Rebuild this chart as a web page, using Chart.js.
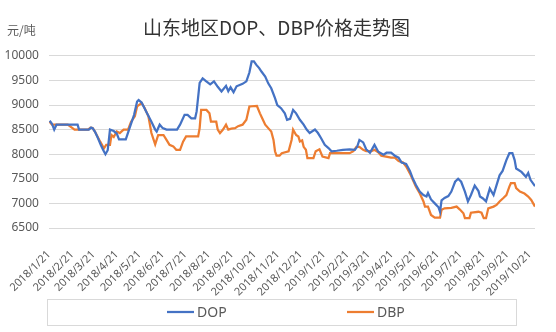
<!DOCTYPE html>
<html>
<head>
<meta charset="utf-8">
<script src="https://cdn.jsdelivr.net/npm/chart.js@4.4.0/dist/chart.umd.min.js"></script>
<style>
  html, body { margin: 0; padding: 0; background: #fff; }
</style>
</head>
<body>
<canvas id="chart" width="556" height="332"></canvas>
<script>
const titleText = "山东地区DOP、DBP价格走势图";
const unitText = "元/吨";

// month ticks on the date axis
const tickLabels = [
  "2018/1/21", "2018/2/21", "2018/3/21", "2018/4/21", "2018/5/21", "2018/6/21",
  "2018/7/21", "2018/8/21", "2018/9/21", "2018/10/21", "2018/11/21", "2018/12/21",
  "2019/1/21", "2019/2/21", "2019/3/21", "2019/4/21", "2019/5/21", "2019/6/21",
  "2019/7/21", "2019/8/21", "2019/9/21", "2019/10/21"
];

// DOP price (yuan/ton), dates where the price moved
const dopDates = [
  "2018-01-22", "2018-01-25", "2018-01-28", "2018-01-31", "2018-02-28", "2018-03-02",
  "2018-03-15", "2018-03-18", "2018-03-20", "2018-03-23", "2018-03-27", "2018-03-31",
  "2018-04-03", "2018-04-06", "2018-04-09", "2018-04-12", "2018-04-17", "2018-04-21", "2018-04-24",
  "2018-05-03", "2018-05-08", "2018-05-14", "2018-05-18", "2018-05-20", "2018-05-24", "2018-05-30",
  "2018-06-06", "2018-06-11", "2018-06-13", "2018-06-17", "2018-06-21", "2018-06-26",
  "2018-07-10", "2018-07-14", "2018-07-20", "2018-07-24", "2018-07-29",
  "2018-08-03", "2018-08-05", "2018-08-09", "2018-08-13", "2018-08-17", "2018-08-23", "2018-08-28",
  "2018-09-02", "2018-09-07", "2018-09-13", "2018-09-16", "2018-09-19", "2018-09-23", "2018-09-27",
  "2018-10-05", "2018-10-10", "2018-10-14", "2018-10-17", "2018-10-20", "2018-10-23", "2018-10-27", "2018-10-30",
  "2018-11-04", "2018-11-08", "2018-11-12", "2018-11-17", "2018-11-20", "2018-11-25", "2018-11-30",
  "2018-12-03", "2018-12-07", "2018-12-11", "2018-12-15", "2018-12-20", "2018-12-25", "2018-12-29",
  "2019-01-02", "2019-01-09", "2019-01-13", "2019-01-17", "2019-01-22", "2019-01-27", "2019-01-31",
  "2019-02-07", "2019-02-15", "2019-02-24",
  "2019-03-03", "2019-03-06", "2019-03-09", "2019-03-14", "2019-03-18", "2019-03-23", "2019-03-29",
  "2019-04-03", "2019-04-10", "2019-04-14", "2019-04-20", "2019-04-25", "2019-04-30",
  "2019-05-04", "2019-05-10", "2019-05-15", "2019-05-19", "2019-05-23", "2019-05-28",
  "2019-06-02", "2019-06-06", "2019-06-08", "2019-06-12", "2019-06-17", "2019-06-22", "2019-06-24", "2019-06-26", "2019-06-30",
  "2019-07-05", "2019-07-09", "2019-07-14", "2019-07-18", "2019-07-22", "2019-07-27", "2019-07-31",
  "2019-08-04", "2019-08-09", "2019-08-14", "2019-08-16", "2019-08-20", "2019-08-24", "2019-08-29",
  "2019-09-03", "2019-09-07", "2019-09-11", "2019-09-15", "2019-09-20", "2019-09-24", "2019-09-28",
  "2019-10-01", "2019-10-03", "2019-10-10", "2019-10-16", "2019-10-19", "2019-10-22", "2019-10-28"
];
const dopPrices = [
  8680, 8620, 8500, 8600, 8600, 8500,
  8500, 8540, 8530, 8460, 8330, 8180,
  8085, 8000, 8080, 8500, 8470, 8420, 8300,
  8300, 8530, 8800, 9070, 9100, 9050, 8870,
  8660, 8500, 8460, 8600, 8530, 8500,
  8500, 8600, 8800, 8800, 8730,
  8730, 8870, 9450, 9540, 9490, 9420, 9480,
  9370, 9275, 9390, 9280, 9360, 9260, 9380,
  9430, 9480, 9660, 9885, 9885, 9820, 9750, 9680,
  9580, 9440, 9340, 9140, 9000, 8935, 8830,
  8700, 8720, 8900, 8830, 8700, 8600, 8500,
  8430, 8500, 8430, 8330, 8190, 8125, 8060,
  8070, 8090, 8100,
  8090, 8150, 8290, 8240, 8100, 8030, 8190,
  8050, 7990, 8030, 8030, 7970, 7930,
  7830, 7800, 7660, 7500, 7375, 7240,
  7170, 7140, 7210, 7080, 7000, 6920, 6830, 7060, 7110,
  7150, 7240, 7440, 7500, 7440, 7240, 7040,
  7170, 7360, 7250, 7140, 7100, 7040, 7300,
  7170, 7370, 7570, 7660, 7880, 8020, 8020,
  7880, 7710, 7640, 7540, 7620, 7480, 7350
];

// DBP price (yuan/ton)
const dbpDates = [
  "2018-01-22", "2018-01-25", "2018-02-15", "2018-02-24",
  "2018-03-14", "2018-03-17", "2018-03-20", "2018-03-23", "2018-03-30",
  "2018-04-04", "2018-04-07", "2018-04-12", "2018-04-14", "2018-04-17", "2018-04-21", "2018-04-25", "2018-04-30",
  "2018-05-06", "2018-05-10", "2018-05-15", "2018-05-18", "2018-05-24", "2018-05-28",
  "2018-06-02", "2018-06-06", "2018-06-09", "2018-06-11", "2018-06-15", "2018-06-22", "2018-06-26", "2018-06-30",
  "2018-07-05", "2018-07-09", "2018-07-14", "2018-07-18", "2018-07-22",
  "2018-08-07", "2018-08-09", "2018-08-11", "2018-08-18", "2018-08-22", "2018-08-24", "2018-08-31",
  "2018-09-02", "2018-09-05", "2018-09-09", "2018-09-13", "2018-09-16", "2018-09-20", "2018-09-25", "2018-09-29",
  "2018-10-05", "2018-10-10", "2018-10-14", "2018-10-24", "2018-10-28", "2018-10-31",
  "2018-11-04", "2018-11-08", "2018-11-12", "2018-11-15", "2018-11-17", "2018-11-19", "2018-11-23", "2018-11-26",
  "2018-12-05", "2018-12-09", "2018-12-11", "2018-12-15", "2018-12-18", "2018-12-20", "2018-12-23", "2018-12-25", "2018-12-28", "2018-12-30",
  "2019-01-07", "2019-01-10", "2019-01-15", "2019-01-19", "2019-01-27", "2019-01-29",
  "2019-02-24",
  "2019-03-01", "2019-03-05", "2019-03-09", "2019-03-14", "2019-03-18", "2019-03-25", "2019-03-29",
  "2019-04-03", "2019-04-07", "2019-04-20", "2019-04-25", "2019-04-30",
  "2019-05-06", "2019-05-10", "2019-05-15", "2019-05-19", "2019-05-23", "2019-05-28",
  "2019-06-02", "2019-06-04", "2019-06-08", "2019-06-12", "2019-06-17", "2019-06-24", "2019-06-26", "2019-06-30",
  "2019-07-09", "2019-07-16", "2019-07-20", "2019-07-25", "2019-07-27",
  "2019-08-02", "2019-08-04", "2019-08-14", "2019-08-18", "2019-08-21", "2019-08-24", "2019-08-27",
  "2019-09-03", "2019-09-07", "2019-09-11", "2019-09-16", "2019-09-20", "2019-09-24", "2019-09-26",
  "2019-10-01", "2019-10-03", "2019-10-08", "2019-10-14", "2019-10-19", "2019-10-23", "2019-10-28"
];
const dbpPrices = [
  8660, 8600, 8600, 8500,
  8500, 8540, 8530, 8460, 8255,
  8120, 8190, 8190, 8390, 8350, 8460, 8430, 8500,
  8500, 8660, 8770, 8970, 9040, 8940,
  8770, 8430, 8290, 8200, 8390, 8390, 8290, 8190,
  8160, 8090, 8090, 8255, 8360,
  8360, 8530, 8900, 8900, 8830, 8660, 8660,
  8500, 8430, 8500, 8600, 8500, 8520, 8530, 8570,
  8600, 8700, 8970, 8980, 8830, 8730,
  8600, 8530, 8460, 8290, 8060, 7970, 7970, 8020,
  8060, 8290, 8500, 8390, 8360, 8260, 8280, 8150, 8090, 7920,
  7920, 8060, 8100, 7950, 7920, 8020,
  8020,
  8060, 8150, 8150, 8090, 8060, 8060, 8090,
  8040, 7970, 7930, 7930, 7860,
  7830, 7750, 7610, 7475, 7340, 7205,
  7040, 6935, 6935, 6765, 6710, 6710, 6870, 6900,
  6910, 6935, 6880, 6800, 6700,
  6700, 6810, 6830, 6810, 6700, 6700, 6900,
  6935, 6970, 7040, 7110, 7170, 7340, 7410,
  7410, 7310, 7240, 7200, 7140, 7070, 6935
];

const startUtc = Date.UTC(2018, 0, 21);

// days since 2018/1/21, so the axis is proportional to time
function toDay(s) {
  const p = s.split(/[-/]/).map(Number);
  return (Date.UTC(p[0], p[1] - 1, p[2]) - startUtc) / 86400000;
}

function toPoints(dates, prices) {
  return dates.map((d, i) => ({ x: toDay(d), y: prices[i] }));
}

const tickDays = tickLabels.map(toDay);
const dopPoints = toPoints(dopDates, dopPrices);
const dbpPoints = toPoints(dbpDates, dbpPrices);
const lastDay = Math.max(toDay(dopDates[dopDates.length - 1]), toDay(dbpDates[dbpDates.length - 1]));

const textColor = "#595959";

// title sits a little right of the plot centre
const titleOffset = {
  id: "titleOffset",
  afterLayout(chart) {
    const t = chart.titleBlock;
    if (t) {
      t.left += 9;
      t.right += 9;
    }
  }
};

// unit text above the value axis
const unitLabel = {
  id: "unitLabel",
  afterDraw(chart) {
    const ctx = chart.ctx;
    ctx.save();
    ctx.fillStyle = textColor;
    ctx.font = "12px 'Noto Sans CJK SC'";
    ctx.textBaseline = "middle";
    ctx.textAlign = "left";
    ctx.fillText(unitText, 7, 30);
    ctx.restore();
  }
};

// framed legend row under the axis labels
const boxLegend = {
  id: "boxLegend",
  afterDraw(chart) {
    const ctx = chart.ctx;
    const starts = [167, 347];
    const y = 312;
    ctx.save();
    ctx.strokeStyle = "#d9d9d9";
    ctx.lineWidth = 1;
    ctx.strokeRect(47.5, 299.5, 469, 26);
    ctx.font = "14px 'Noto Sans'";
    ctx.textBaseline = "middle";
    ctx.textAlign = "left";
    chart.data.datasets.forEach((ds, i) => {
      const x = starts[i];
      ctx.strokeStyle = ds.borderColor;
      ctx.lineWidth = 2.25;
      ctx.beginPath();
      ctx.moveTo(x, y);
      ctx.lineTo(x + 27, y);
      ctx.stroke();
      ctx.fillStyle = textColor;
      ctx.fillText(ds.label, x + 30, y + 1);
    });
    ctx.restore();
  }
};

new Chart(document.getElementById("chart"), {
  type: "line",
  data: {
    datasets: [
      {
        label: "DOP",
        data: dopPoints,
        borderColor: "#4472c4",
        borderWidth: 2.25,
        pointRadius: 0,
        tension: 0
      },
      {
        label: "DBP",
        data: dbpPoints,
        borderColor: "#ed7d31",
        borderWidth: 2.25,
        pointRadius: 0,
        tension: 0
      }
    ]
  },
  options: {
    responsive: false,
    animation: false,
    devicePixelRatio: 1,
    layout: { padding: { left: 0, right: 21, top: 0, bottom: 34 } },
    plugins: {
      legend: { display: false },
      tooltip: { enabled: false },
      title: {
        display: true,
        text: titleText,
        color: "#333",
        font: { family: "'Noto Sans CJK SC'", size: 19, weight: "normal", lineHeight: 1.2 },
        padding: { top: 16, bottom: 17 }
      }
    },
    scales: {
      x: {
        type: "linear",
        min: 0,
        max: lastDay,
        grid: { display: false },
        border: { display: false },
        afterBuildTicks(scale) {
          scale.ticks = tickDays.map(v => ({ value: v }));
        },
        afterFit(scale) {
          scale.height = 70;
        },
        ticks: {
          autoSkip: false,
          minRotation: 45,
          maxRotation: 45,
          padding: 12,
          color: textColor,
          font: { family: "'Noto Sans'", size: 11 },
          callback: (value, index) => tickLabels[index]
        }
      },
      y: {
        min: 6500,
        max: 10000,
        grid: { color: "#d9d9d9", drawTicks: false },
        border: { display: false },
        afterFit(scale) {
          scale.width = 48;
        },
        ticks: {
          stepSize: 500,
          padding: 10,
          color: textColor,
          font: { family: "'Noto Sans'", size: 12 },
          callback: value => String(value)
        }
      }
    }
  },
  plugins: [titleOffset, unitLabel, boxLegend]
});
</script>
</body>
</html>
